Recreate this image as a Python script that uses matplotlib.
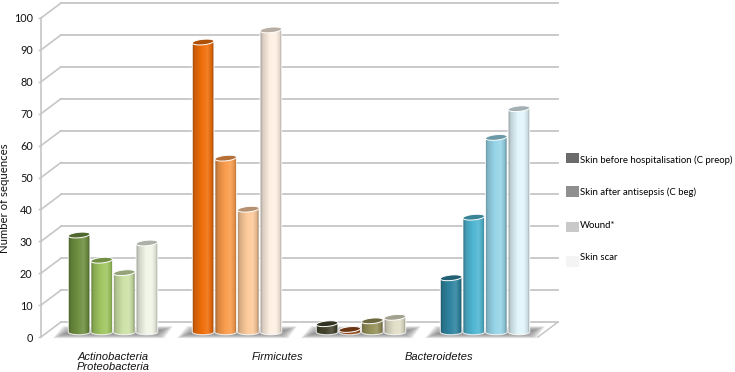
import numpy as np
import matplotlib
matplotlib.use("Agg")
import matplotlib.pyplot as plt
from matplotlib.colors import to_rgb, LinearSegmentedColormap
from matplotlib.lines import Line2D
from matplotlib.patches import Patch, PathPatch, Polygon
from matplotlib.path import Path
from matplotlib.transforms import Affine2D

# ---- data -------------------------------------------------------------
series_names = ["Skin before hospitalisation (C preop)", "Skin after antisepsis (C beg)",
                "Wound*", "Skin scar"]
legend_colors = ["#6b6b6b", "#8f8f8f", "#c9c9c9", "#f4f4f4"]
group1_values = [30.4, 22.5, 18.6, 27.9]
group2_values = [90.9, 54.5, 38.5, 94.7]
group3_values = [2.6, 0.8, 3.5, 4.6]
group4_values = [17, 36, 61, 70]
group1_colors = ["#6f9040", "#9fc660", "#cde2a6", "#f1f6e8"]
group2_colors = ["#f06e0a", "#fa9c4c", "#fdca9a", "#fff0e3"]
group3_colors = ["#45452f", "#94491c", "#96925a", "#e2dfc8"]
group4_colors = ["#2f84a0", "#4fb6d2", "#96d5e8", "#e2f6fc"]
category_labels = ["Actinobacteria\nProteobacteria", "Firmicutes", "Bacteroidetes"]
category_positions = [0.0, 1.33, 2.63]
yticks = list(range(0, 101, 10))

all_values = [group1_values, group2_values, group3_values, group4_values]
all_colors = [group1_colors, group2_colors, group3_colors, group4_colors]

# ---- figure ------------------------------------------------------------
W, H = 735, 372
fig = plt.figure(figsize=(W / 100, H / 100), dpi=100)
fig.patch.set_facecolor("white")
ax = fig.add_axes([41 / W, 1 - 337 / H, (538 - 41) / W, (337 - 18) / H])
ax.patch.set_alpha(0)
XL, XR = (41 - 113) / 124, (538 - 113) / 124
GRID = "#c6c6c6"
BAR_W = 22.6 / 124
CAP_H = 5.5 / 3.19
CAP_TILT = 1.0 / 3.19

bar_trans = ax.transData + Affine2D().translate(0, 5)
back_trans = ax.transData + Affine2D().translate(20, 15)

ax.set_xlim(XL, XR)
ax.set_ylim(0, 100)

# walls
for v in yticks:
    ax.plot([XL, XR], [v, v], color=GRID, lw=1.3, transform=back_trans, zorder=1, clip_on=False)
    p0 = ax.transData.transform((XL, v))
    fig.add_artist(Line2D([p0[0], p0[0] + 20], [p0[1], p0[1] + 15], color=GRID, lw=1.2,
                          transform=None, zorder=1))
pr = ax.transData.transform((XR, 0))
fig.add_artist(Line2D([pr[0], pr[0] + 20], [pr[1], pr[1] + 15], color=GRID, lw=1.1,
                      transform=None, zorder=1))


def shade(c):
    c = np.array(to_rgb(c))
    dark = c * 0.62
    light = c + (1 - c) * 0.12
    return LinearSegmentedColormap.from_list(
        "s", [(0, dark), (0.12, c * 0.85), (0.45, c), (0.72, light), (0.9, c * 0.9), (1, dark)])


grad = np.linspace(0, 1, 64).reshape(1, -1)

for g, (vals, cols) in enumerate(zip(all_values, all_colors)):
    # floor shadow, soft edged
    x0 = g - 2 * BAR_W
    x1 = g + 2 * BAR_W
    for k in np.arange(8, 0, -1):
        dx = (k - 4) * 1.5 / 124
        dy = (k - 4) * 0.6 / 3.19
        ax.add_patch(Polygon([(x0 - 0.07 - dx, 0.4 - dy), (x1 + 0.0 + dx, 0.4 - dy),
                              (x1 + 0.07 + dx, 2.6 + dy), (x0 + 0.01 - dx, 2.6 + dy)],
                             closed=True, fc="#777777", ec="none", alpha=0.17, zorder=2,
                             clip_on=False))
    # cylinders
    for i, (v, c) in enumerate(zip(vals, cols)):
        xc = g + (i - 1.5) * BAR_W
        l, r = xc - BAR_W / 2 + 0.004, xc + BAR_W / 2 - 0.004
        h = CAP_H
        theta = np.linspace(np.pi, 2 * np.pi, 24)
        verts = [(l, v - CAP_TILT), (l, 0)]
        verts += [(xc + (r - l) / 2 * np.cos(t), h / 2 * np.sin(t)) for t in theta]
        verts += [(r, v + CAP_TILT), (l, v - CAP_TILT)]
        body = Path(verts)
        im = ax.imshow(grad, extent=(l, r, -h, v + 2), cmap=shade(c), aspect="auto",
                       transform=bar_trans, zorder=3 + i * 0.1, interpolation="bilinear",
                       vmin=0, vmax=1)
        clip = PathPatch(body, transform=bar_trans, fc="none", ec="none")
        ax.add_patch(clip)
        im.set_clip_path(clip)
        ax.add_patch(PathPatch(body, transform=bar_trans, fc="none", ec="white", lw=0.8,
                               alpha=0.8, zorder=3.02 + i * 0.1))
        top = np.array(to_rgb(c)) * 0.72
        t = np.linspace(0, 2 * np.pi, 48)
        ex = (r - l) / 2 * np.cos(t)
        ey = h / 2 * np.sin(t) + CAP_TILT * ex / ((r - l) / 2)
        ax.add_patch(Polygon(np.column_stack([xc + ex, v + ey]), closed=True, transform=bar_trans,
                             fc=top, ec="white", lw=0.7, zorder=3.05 + i * 0.1, clip_on=False))

ax.set_xlim(XL, XR)
ax.set_ylim(0, 100)

# axes
for s in ["top", "right", "bottom"]:
    ax.spines[s].set_visible(False)
ax.spines["left"].set_color(GRID)
ax.spines["left"].set_linewidth(1.2)
ax.set_yticks(yticks)
ax.tick_params(axis="y", length=2, width=1, color=GRID, pad=4, labelsize=7.8, labelcolor="#111111")
for t in ax.get_yticklabels():
    t.set_fontfamily("Lato")
ax.set_ylabel("Number of sequences", fontsize=8.2, family="Lato", color="#111111",
              va="center", ha="center")
ax.yaxis.set_label_coords(-36 / (538 - 41), (337 - 198.5) / (337 - 18))
ax.yaxis.label.set_rotation_mode("anchor")

ax.set_xticks(category_positions)
ax.set_xticklabels(category_labels, fontsize=8, style="italic", family="Liberation Sans",
                   linespacing=1.0, color="#111111", ha="center", va="top")
ax.tick_params(axis="x", length=0, pad=11)

# legend
handles = [Patch(fc=c, ec="none") for c in legend_colors]
leg = fig.legend(handles, series_names, loc="upper left", bbox_to_anchor=(566 / W, 1 - 154 / H),
                 bbox_transform=fig.transFigure, frameon=False, labelspacing=2.25,
                 handlelength=1.35, handleheight=1.35, handletextpad=0.1, borderpad=0, borderaxespad=0,
                 prop={"family": "Lato", "size": 6.95})
for hnd, d in zip(leg.legend_handles, [1.5, 0.5, -2.5, -4.5]):
    hnd.set_y(hnd.get_y() + d * 0.72)

fig.savefig("out.png", dpi=100)
